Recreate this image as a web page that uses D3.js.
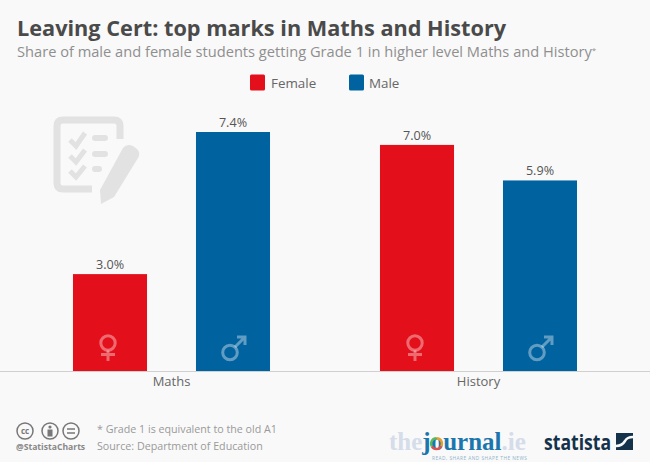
<!DOCTYPE html>
<html><head><meta charset="utf-8">
<script src="https://cdnjs.cloudflare.com/ajax/libs/d3/7.8.5/d3.min.js"></script>
<style>html,body{margin:0;padding:0;background:#f9f9f9}svg{display:block}text{font-family:"Open Sans",sans-serif}</style>
</head><body><div id="chart"></div>
<script>
const categories = ["Maths", "History"];
const seriesNames = ["Female", "Male"];
const female = [3.0, 7.0];
const male = [7.4, 5.9];
const colors = ["#e30f1b", "#00629f"];
const title = "Leaving Cert: top marks in Maths and History";
const subtitle = "Share of male and female students getting Grade 1 in higher level Maths and History";
const notes = ["* Grade 1 is equivalent to the old A1", "Source: Department of Education"];

const W = 650, H = 462, baseY = 371;
const svg = d3.select("#chart").append("svg").attr("width", W).attr("height", H);
svg.append("rect").attr("width", W).attr("height", H).attr("fill", "#f9f9f9");

svg.append("text").attr("x", 17).attr("y", 36).attr("font-size", 21.7).attr("font-weight", 700).attr("fill", "#4a4a4a").text(title);
const sub = svg.append("text").attr("x", 17).attr("y", 57).attr("font-size", 14.65).attr("fill", "#8f8f8f").text(subtitle);
sub.append("tspan").attr("font-size", 8).attr("dy", -4).text("*");

// Legend
const legendX = [250, 349];
const textX = [271, 369];
seriesNames.forEach((s, i) => {
  svg.append("rect").attr("x", legendX[i]).attr("y", 74.5).attr("width", 15).attr("height", 16).attr("rx", 1.5).attr("fill", colors[i]);
  svg.append("text").attr("x", textX[i]).attr("y", 87.5).attr("font-size", 13.4).attr("fill", "#666").text(s);
});

// Background clipboard icon
const icon = svg.append("g").attr("transform", "translate(30,100)");
icon.append("path").attr("fill", "none").attr("stroke", "#e2e2e2").attr("stroke-width", 7)
  .attr("d", "M90,39V26Q90,20 84,20H33Q27,20 27,26V83Q27,89 33,89H62");
icon.append("path").attr("fill", "none").attr("stroke", "#e2e2e2").attr("stroke-width", 5)
  .attr("d", "M40,40L46,46L55,33M40,56L46,62L55,50M40,71L46,77L55,66");
icon.append("path").attr("fill", "none").attr("stroke", "#e2e2e2").attr("stroke-width", 6).attr("stroke-linecap", "round")
  .attr("d", "M65,38H75M65,54H75M65,69H69");
icon.append("path").attr("fill", "#e2e2e2")
  .attr("d", "M93,48Q97,43 103,46L107,49Q111,53 108,58L84,97L71,104L70,90Z");

// Scales
const x0 = d3.scaleBand().domain(categories).range([18, 632]);
const x1 = d3.scaleBand().domain(seriesNames).range([0, x0.bandwidth()]).paddingInner(0.398).paddingOuter(0.447);
const y = d3.scaleLinear().domain([0, 7.4]).range([baseY, 132]);

const rows = categories.map((c, i) => ({c, vals: [female[i], male[i]]}));
const groups = svg.selectAll("g.cat").data(rows).join("g").attr("class", "cat")
  .attr("transform", d => `translate(${x0(d.c)},0)`);
const bars = groups.selectAll("g.bar").data(d => d.vals.map((v, i) => ({s: seriesNames[i], v, i}))).join("g").attr("class", "bar");
bars.append("rect").attr("x", d => x1(d.s)).attr("y", d => y(d.v))
  .attr("width", x1.bandwidth()).attr("height", d => baseY - y(d.v)).attr("fill", d => colors[d.i]);
bars.append("text").attr("x", d => x1(d.s) + x1.bandwidth() / 2).attr("y", d => y(d.v) - 5)
  .attr("text-anchor", "middle").attr("font-size", 12.6).attr("fill", "#555").text(d => d.v.toFixed(1) + "%");

// Gender symbols
const sym = bars.append("g").attr("transform", d => `translate(${x1(d.s) + x1.bandwidth() / 2},347)`)
  .attr("fill", "none").attr("stroke", "#fff").attr("stroke-opacity", 0.38).attr("stroke-width", 3);
sym.filter(d => d.i === 0).append("path").attr("d", "M-2,3.5V14M-9,7.5H5");
sym.filter(d => d.i === 0).append("circle").attr("cx", -2).attr("cy", -4).attr("r", 7.2);
sym.filter(d => d.i === 1).append("circle").attr("cx", -3).attr("cy", 5.5).attr("r", 7.3);
sym.filter(d => d.i === 1).append("path").attr("d", "M2,0L11.5,-9.5M4,-10H12V-2");

// Axis
const axis = svg.append("g").attr("transform", `translate(0,${baseY})`).call(d3.axisBottom(x0).tickSize(0).tickPadding(6));
axis.select(".domain").attr("stroke", "#d0d0d0").attr("stroke-width", 1).attr("d", `M0,0.5H${W}`);
axis.selectAll("text").attr("font-family", '"Open Sans",sans-serif').attr("font-size", 13).attr("fill", "#666");

// Footer
const cc = svg.append("g").attr("fill", "none").attr("stroke", "#777").attr("stroke-width", 1.5);
[25, 50, 71].forEach(cx => cc.append("circle").attr("cx", cx).attr("cy", 431).attr("r", 8));
svg.append("text").attr("x", 25).attr("y", 434).attr("text-anchor", "middle").attr("font-size", 8).attr("font-weight", 700).attr("fill", "#777").text("cc");
svg.append("circle").attr("cx", 50).attr("cy", 427).attr("r", 1.6).attr("fill", "#777");
svg.append("rect").attr("x", 47.5).attr("y", 429.5).attr("width", 5).attr("height", 7).attr("fill", "#777");
svg.append("path").attr("d", "M67,429H75M67,433H75").attr("stroke", "#777").attr("stroke-width", 1.6);
svg.append("text").attr("x", 16).attr("y", 450).attr("font-size", 8.6).attr("font-weight", 700).attr("fill", "#888").text("@StatistaCharts");
notes.forEach((n, i) => svg.append("text").attr("x", 97).attr("y", 433 + i * 17).attr("font-size", 10.7).attr("fill", "#999").text(n));

// Publisher marks
const j = svg.append("text").attr("x", 389).attr("y", 449.5).style("font-family", '"Liberation Serif",serif').attr("font-weight", 700).attr("font-size", 25);
j.append("tspan").attr("fill", "#d5dcea").text("the");
j.append("tspan").attr("fill", "#1c76ae").text("journal");
j.append("tspan").attr("fill", "#d5dcea").text(".ie");
const ring = [["#e5a12b", 0, 120], ["#d9534f", 120, 240], ["#5cb85c", 240, 360]];
const arc = d3.arc().innerRadius(4.2).outerRadius(6.6);
ring.forEach(r => svg.append("path").attr("transform", "translate(436.5,443.6)").attr("fill", r[0])
  .attr("d", arc({startAngle: r[1] * Math.PI / 180, endAngle: r[2] * Math.PI / 180})));
svg.append("text").attr("x", 432).attr("y", 460.3).attr("font-size", 4.8).attr("fill", "#8fb3cc").attr("textLength", 95).text("READ, SHARE AND SHAPE THE NEWS");
svg.append("text").attr("x", 544).attr("y", 450).attr("font-size", 22).attr("font-weight", 700).attr("fill", "#14324a").attr("textLength", 67).attr("lengthAdjust", "spacingAndGlyphs").text("statista");
svg.append("rect").attr("x", 616).attr("y", 433).attr("width", 17).attr("height", 17).attr("fill", "#14324a");
svg.append("path").attr("d", "M616,446Q622,446 625,441Q627,437 633,437").attr("fill", "none").attr("stroke", "#f9f9f9").attr("stroke-width", 2.5);
</script></body></html>
